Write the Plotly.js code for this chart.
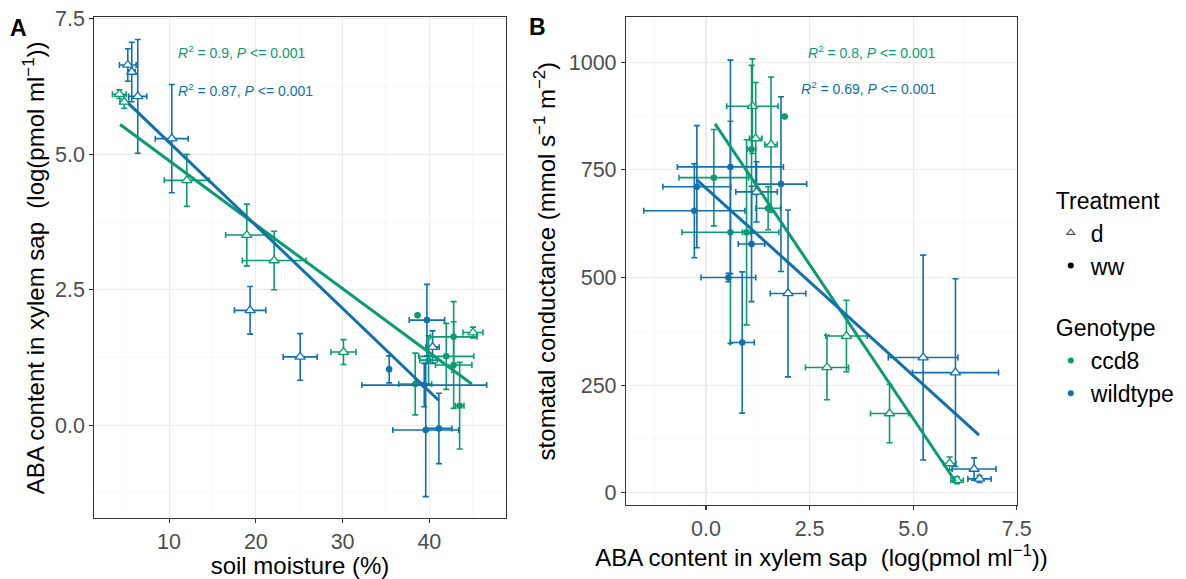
<!DOCTYPE html>
<html>
<head>
<meta charset="utf-8">
<script src="https://cdn.plot.ly/plotly-3.0.1.min.js"></script>
<style>html,body{margin:0;padding:0;background:#fff;}#chart{width:1186px;height:579px;}</style>
</head>
<body>
<div id="chart"></div>
<script>
// ---------- Panel A: soil moisture vs ABA ----------
const aCcd8DX    = [4.27, 4.84, 12.04, 18.96, 22.11, 30.1, 45.03];
const aCcd8DY    = [6.11, 5.97, 4.52, 3.51, 3.04, 1.35, 1.71];
const aCcd8DXerr = [0.8, 0.5, 2.6, 2.44, 3.67, 1.44, 1.15];
const aCcd8DYerr = [0.08, 0.12, 0.48, 0.57, 0.54, 0.23, 0.1];

const aWtDX    = [5.24, 5.7, 6.39, 10.31, 19.34, 25.11, 40.37];
const aWtDY    = [6.65, 6.52, 6.07, 5.29, 2.12, 1.26, 1.44];
const aWtDXerr = [0.96, 0.4, 1.04, 1.9, 1.81, 1.96, 0.77];
const aWtDYerr = [0.3, 0.55, 1.05, 1.0, 0.44, 0.43, 0.3];

const aCcd8WX    = [38.64, 42.8, 41.95, 42.8, 43.49, 38.37, 39.9];
const aCcd8WY    = [2.03, 1.63, 1.27, 1.11, 0.36, 0.76, 1.2];
const aCcd8WXerr = [0, 2.7, 3.17, 2.1, 0.5, 1.9, 1.0];
const aCcd8WYerr = [0, 0.65, 0.61, 0.8, 0.8, 0.57, 0.45];

const aWtWX    = [35.37, 39.72, 39.41, 39.58, 41.1];
const aWtWY    = [1.03, 1.94, 0.74, -0.09, -0.06];
const aWtWXerr = [0.1, 2.04, 7.2, 3.8, 1.5];
const aWtWYerr = [0.25, 0.66, 0.4, 1.23, 0.65];

const aCcd8FitX = [4.36, 44.9], aCcd8FitY = [5.55, 0.76];
const aWtFitX   = [5.31, 41.06], aWtFitY  = [5.94, 0.46];

// ---------- Panel B: ABA vs stomatal conductance ----------
const bCcd8DX    = [1.12, 1.2, 1.57, 3.39, 2.92, 4.43, 5.88, 6.06];
const bCcd8DY    = [898, 823, 809, 364, 291, 184, 68, 29];
const bCcd8DXerr = [0.62, 0.15, 0.15, 0.5, 0.52, 0.46, 0.15, 0.15];
const bCcd8DYerr = [110, 130, 157, 83, 75, 68, 15, 8];

const bWtDX    = [1.22, 1.98, 5.24, 6.02, 6.47, 6.6];
const bWtDY    = [699, 463, 314, 279, 55, 32];
const bWtDXerr = [0.5, 0.43, 0.84, 1.04, 0.53, 0.28];
const bWtDYerr = [70, 194, 238, 218, 26, 8];

const bCcd8WX    = [0.19, 0.59, 0.98, 1.1, 1.9, 1.5];
const bCcd8WY    = [732, 605, 605, 798, 874, 661];
const bCcd8WXerr = [0.84, 1.17, 0.1, 0.1, 0, 0.3];
const bCcd8WYerr = [112, 258, 215, 195, 0, 50];

const bWtWX    = [-0.28, -0.22, 0.59, 0.54, 1.1, 1.81, 0.875];
const bWtWY    = [655, 711, 757, 500, 578, 717, 349];
const bWtWXerr = [1.22, 0.82, 1.28, 0.66, 0.32, 0.62, 0.29];
const bWtWYerr = [109, 142, 248, 10, 134, 203, 164];

const bCcd8FitX = [0.22, 6.02], bCcd8FitY = [857, 26];
const bWtFitX   = [-0.22, 6.59], bWtFitY  = [727, 134];

// ---------- labels ----------
const statsA = ["<i>R</i><sup>2</sup> = 0.9, <i>P</i> &lt;= 0.001", "<i>R</i><sup>2</sup> = 0.87, <i>P</i> &lt;= 0.001"];
const statsB = ["<i>R</i><sup>2</sup> = 0.8, <i>P</i> &lt;= 0.001", "<i>R</i><sup>2</sup> = 0.69, <i>P</i> &lt;= 0.001"];
const treatments = ["d", "ww"];
const genotypes = ["ccd8", "wildtype"];

const GREEN = '#0A9B72', BLUE = '#1170AE';
const FONT = '"Liberation Sans", Arial, sans-serif';

function pts(x, y, xe, ye, col, tri, xa, ya) {
  return {
    type: 'scatter', mode: 'markers', x: x, y: y, xaxis: xa, yaxis: ya, showlegend: false,
    error_x: {type: 'data', array: xe, visible: true, color: col, thickness: 1.6, width: 3},
    error_y: {type: 'data', array: ye, visible: true, color: col, thickness: 1.6, width: 3},
    marker: tri ? {symbol: 'triangle-up', size: 9, color: '#ffffff', line: {color: col, width: 1.3}}
                : {symbol: 'circle', size: 6.5, color: col, line: {width: 0}},
    hoverinfo: 'x+y'
  };
}
function fit(x, y, col, xa, ya) {
  return {type: 'scatter', mode: 'lines', x: x, y: y, xaxis: xa, yaxis: ya, showlegend: false,
          line: {color: col, width: 3}, hoverinfo: 'skip'};
}
function key(name, group, title, marker) {
  return {type: 'scatter', mode: 'markers', x: [null], y: [null], name: name,
          legendgroup: group, legendgrouptitle: {text: title, font: {size: 23, color: '#000', family: FONT}},
          marker: marker, showlegend: true, xaxis: 'x', yaxis: 'y'};
}

const data = [
  pts(aCcd8DX, aCcd8DY, aCcd8DXerr, aCcd8DYerr, GREEN, true, 'x', 'y'),
  pts(aWtDX, aWtDY, aWtDXerr, aWtDYerr, BLUE, true, 'x', 'y'),
  pts(aCcd8WX, aCcd8WY, aCcd8WXerr, aCcd8WYerr, GREEN, false, 'x', 'y'),
  pts(aWtWX, aWtWY, aWtWXerr, aWtWYerr, BLUE, false, 'x', 'y'),
  fit(aCcd8FitX, aCcd8FitY, GREEN, 'x', 'y'),
  fit(aWtFitX, aWtFitY, BLUE, 'x', 'y'),
  pts(bCcd8DX, bCcd8DY, bCcd8DXerr, bCcd8DYerr, GREEN, true, 'x2', 'y2'),
  pts(bWtDX, bWtDY, bWtDXerr, bWtDYerr, BLUE, true, 'x2', 'y2'),
  pts(bCcd8WX, bCcd8WY, bCcd8WXerr, bCcd8WYerr, GREEN, false, 'x2', 'y2'),
  pts(bWtWX, bWtWY, bWtWXerr, bWtWYerr, BLUE, false, 'x2', 'y2'),
  fit(bCcd8FitX, bCcd8FitY, GREEN, 'x2', 'y2'),
  fit(bWtFitX, bWtFitY, BLUE, 'x2', 'y2'),
  key(treatments[0], 'Treatment', 'Treatment', {symbol: 'triangle-up-open', size: 7, color: '#555', line: {width: 1.2}}),
  key(treatments[1], 'Treatment', 'Treatment', {symbol: 'circle', size: 6, color: '#000'}),
  key(genotypes[0], 'Genotype', 'Genotype', {symbol: 'circle', size: 6, color: GREEN}),
  key(genotypes[1], 'Genotype', 'Genotype', {symbol: 'circle', size: 6, color: BLUE})
];

function ax(extra) {
  return Object.assign({
    showline: true, mirror: true, linecolor: '#333333', linewidth: 1.1,
    ticks: 'outside', ticklen: 4, tickwidth: 1.1, tickcolor: '#333333',
    showgrid: true, gridcolor: '#EBEBEB', gridwidth: 1.1, zeroline: false,
    tickfont: {size: 21.5, color: '#4D4D4D', family: FONT},
    automargin: false
  }, extra);
}
const titleFont = {size: 24, color: '#000', family: FONT};

const layout = {
  width: 1186, height: 579,
  margin: {l: 0, r: 0, t: 0, b: 0},
  paper_bgcolor: '#fff', plot_bgcolor: '#fff',
  font: {family: FONT},
  xaxis: ax({domain: [0.0795, 0.4264], range: [1.38, 48.8], tickvals: [10, 20, 30, 40],
             minor: {tickvals: [5, 15, 25, 35, 45], showgrid: true, gridcolor: '#F5F5F5', gridwidth: 0.6, ticks: ''},
             anchor: 'y', title: {text: 'soil moisture (%)', font: titleFont, standoff: 3}}),
  yaxis: ax({domain: [0.1048, 0.9701], range: [-1.72, 7.53], tickvals: [0, 2.5, 5, 7.5], tickformat: '.1f',
             minor: {tickvals: [-1.25, 1.25, 3.75, 6.25], showgrid: true, gridcolor: '#F5F5F5', gridwidth: 0.6, ticks: ''},
             anchor: 'x', title: {text: 'ABA content in xylem sap  (log(pmol ml<sup>−1</sup>))', font: titleFont, standoff: 3}}),
  xaxis2: ax({domain: [0.5278, 0.8575], range: [-1.93, 7.505], tickvals: [0, 2.5, 5, 7.5], tickformat: '.1f',
             minor: {tickvals: [-1.25, 1.25, 3.75, 6.25], showgrid: true, gridcolor: '#F5F5F5', gridwidth: 0.6, ticks: ''},
             anchor: 'y2', title: {text: 'ABA content in xylem sap  (log(pmol ml<sup>−1</sup>))', font: titleFont, standoff: 2}}),
  yaxis2: ax({domain: [0.1278, 0.9701], range: [-28.6, 1104.6], tickvals: [0, 250, 500, 750, 1000],
             minor: {tickvals: [125, 375, 625, 875], showgrid: true, gridcolor: '#F5F5F5', gridwidth: 0.6, ticks: ''},
             anchor: 'x2', title: {text: 'stomatal conductance (mmol s<sup>−1</sup> m<sup>−2</sup>)', font: titleFont, standoff: 6}}),
  showlegend: true,
  legend: {x: 0.886, y: 0.692, xanchor: 'left', yanchor: 'top', traceorder: 'grouped',
           font: {size: 23, color: '#000', family: FONT}, tracegroupgap: 29,
           bgcolor: 'rgba(0,0,0,0)', itemclick: false},
  annotations: [
    {xref: 'paper', yref: 'paper', x: 0.1484, y: 0.9102, xanchor: 'left', yanchor: 'middle', showarrow: false,
     text: statsA[0], font: {size: 14, color: GREEN, family: FONT}},
    {xref: 'paper', yref: 'paper', x: 0.1484, y: 0.8446, xanchor: 'left', yanchor: 'middle', showarrow: false,
     text: statsA[1], font: {size: 14, color: BLUE, family: FONT}},
    {xref: 'paper', yref: 'paper', x: 0.7909, y: 0.9102, xanchor: 'right', yanchor: 'middle', showarrow: false,
     text: statsB[0], font: {size: 14, color: GREEN, family: FONT}},
    {xref: 'paper', yref: 'paper', x: 0.7909, y: 0.848, xanchor: 'right', yanchor: 'middle', showarrow: false,
     text: statsB[1], font: {size: 14, color: BLUE, family: FONT}},
    {xref: 'paper', yref: 'paper', x: 18 / 1186, y: 1 - 28 / 579, xanchor: 'center', yanchor: 'middle', showarrow: false,
     text: '<b>A</b>', font: {size: 23, color: '#000', family: FONT}},
    {xref: 'paper', yref: 'paper', x: 537 / 1186, y: 1 - 27 / 579, xanchor: 'center', yanchor: 'middle', showarrow: false,
     text: '<b>B</b>', font: {size: 23, color: '#000', family: FONT}}
  ]
};

Plotly.newPlot('chart', data, layout, {displayModeBar: false, staticPlot: true});
</script>
</body>
</html>
